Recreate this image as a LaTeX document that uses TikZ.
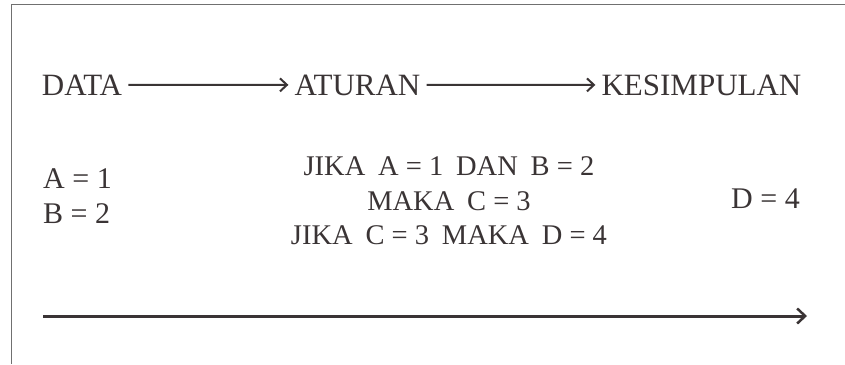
\documentclass[tikz,border=0pt]{standalone}
\usepackage{fontspec}
\setmainfont{Liberation Serif}
\usetikzlibrary{arrows.meta}
\definecolor{ink}{HTML}{3A3435}
\definecolor{framegray}{HTML}{707070}
\tikzset{
  head/.style={font=\fontsize{31}{36}\selectfont, text=ink, inner xsep=6pt, inner ysep=0pt},
  value/.style={font=\fontsize{30}{35}\selectfont, text=ink, inner sep=0pt},
  rule/.style={font=\fontsize{28.5}{34}\selectfont, text=ink, inner sep=0pt},
  flow/.style={draw=ink, line width=2pt, -{Straight Barb[length=7pt,width=13pt,line width=2pt]}},
  timeline/.style={draw=ink, line width=3pt, -{Straight Barb[length=8pt,width=15pt,line width=2.5pt]}},
  frameline/.style={draw=framegray, line width=1.5pt}
}
\newcommand{\gap}{\hspace{0.45em}}
\begin{document}
\begin{tikzpicture}[x=1pt, y=-1pt]
  \useasboundingbox (0,0) rectangle (845,364);
  % open frame: top and left edges only
  \draw[frameline] (845,4.5) -- (11.5,4.5) -- (11.5,364);

  % stages
  \node[head, anchor=base] (data) at (82,95) {DATA};
  \node[head, anchor=base] (aturan) at (357.5,95) {ATURAN};
  \node[head, anchor=base] (kesimpulan) at (701.5,95) {KESIMPULAN};
  \draw[flow] (data) -- (aturan);
  \draw[flow] (aturan) -- (kesimpulan);

  % facts
  \node[value, anchor=base west] (fa) at (43,188) {A = 1};
  \node[value, anchor=base west] (fb) at (43,223) {B = 2};

  % rules
  \node[rule, anchor=base] (r1) at (449,175) {JIKA\gap A = 1\gap DAN\gap B = 2};
  \node[rule, anchor=base] (r2) at (449,210) {MAKA\gap C = 3};
  \node[rule, anchor=base] (r3) at (449,244) {JIKA\gap C = 3\gap MAKA\gap D = 4};

  % conclusion
  \node[value, anchor=base east] (fd) at (800,208) {D = 4};

  % time axis
  \coordinate (t0) at (43,316);
  \coordinate (t1) at (807,316);
  \draw[timeline] (t0) -- (t1);
\end{tikzpicture}
\end{document}
